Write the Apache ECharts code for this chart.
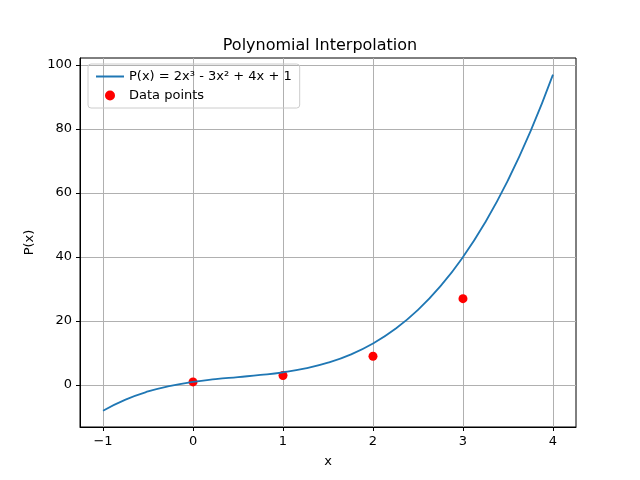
<!DOCTYPE html>
<html><head><meta charset="utf-8">
<script src="https://cdn.jsdelivr.net/npm/echarts@6/dist/echarts.min.js"></script>
<style>html,body{margin:0;background:#fff}#c{width:640px;height:480px}</style>
</head><body><div id="c"></div>
<script>
const curveX = [-1,-0.75,-0.5,-0.25,0,0.25,0.5,0.75,1,1.25,1.5,1.75,2,2.25,2.5,2.75,3,3.25,3.5,3.75,4];
const curveY = [-8,-4.53,-2,-0.22,1,1.84,2.5,3.16,4,5.22,7,9.53,13,17.59,23.5,30.91,40,50.97,64,79.28,97];
const pointX = [0,1,2,3];
const pointY = [1,3,9,27];
const xTicks = [-1,0,1,2,3,4];
const yTicks = [0,20,40,60,80,100];
const F = 'DejaVu Sans';
const chart = echarts.init(document.getElementById('c'));
chart.setOption({
  animation:false,
  textStyle:{fontFamily:F},
  title:{text:'Polynomial Interpolation',left:'center',top:33,textStyle:{fontFamily:F,fontSize:16,fontWeight:'normal',color:'#000'}},
  grid:{left:80,right:64,top:58,bottom:53,show:true,borderColor:'#000',borderWidth:1},
  legend:{left:88,top:64,orient:'vertical',borderColor:'#ccc',borderWidth:1,borderRadius:3,padding:[6,8],itemGap:6,itemWidth:28,itemHeight:10,
    textStyle:{fontFamily:F,fontSize:13,color:'#000'},
    data:[{name:'P(x) = 2x³ - 3x² + 4x + 1',icon:'path://M0,0L28,0L28,2L0,2Z'},{name:'Data points',icon:'circle'}]},
  xAxis:{type:'value',min:-1.256,max:4.256,name:'x',nameLocation:'middle',nameGap:28,nameTextStyle:{fontFamily:F,fontSize:13,color:'#000'},
    axisLine:{onZero:false,lineStyle:{color:'#000'}},
    axisTick:{show:true,customValues:xTicks,length:4,lineStyle:{color:'#000'}},
    axisLabel:{customValues:xTicks,color:'#000',fontSize:13,fontFamily:F,formatter:v=>String(v).replace('-','−')},
    splitLine:{show:true,lineStyle:{color:'#b0b0b0'}}},
  yAxis:{type:'value',min:-13.1,max:102.2,name:'P(x)',nameLocation:'middle',nameGap:42,nameTextStyle:{fontFamily:F,fontSize:13,color:'#000'},
    axisLine:{show:true,onZero:false,lineStyle:{color:'#000'}},
    axisTick:{show:true,customValues:yTicks,length:4,lineStyle:{color:'#000'}},
    axisLabel:{customValues:yTicks,color:'#000',fontSize:13,fontFamily:F},
    splitLine:{show:true,lineStyle:{color:'#b0b0b0'}}},
  series:[
    {name:'P(x) = 2x³ - 3x² + 4x + 1',type:'line',smooth:true,showSymbol:false,color:'#1f77b4',lineStyle:{width:1.8},
      data:curveX.map((x,i)=>[x,curveY[i]])},
    {name:'Data points',type:'scatter',symbolSize:9,color:'#ff0000',itemStyle:{opacity:1},data:pointX.map((x,i)=>[x,pointY[i]])}
  ]
});
</script></body></html>
